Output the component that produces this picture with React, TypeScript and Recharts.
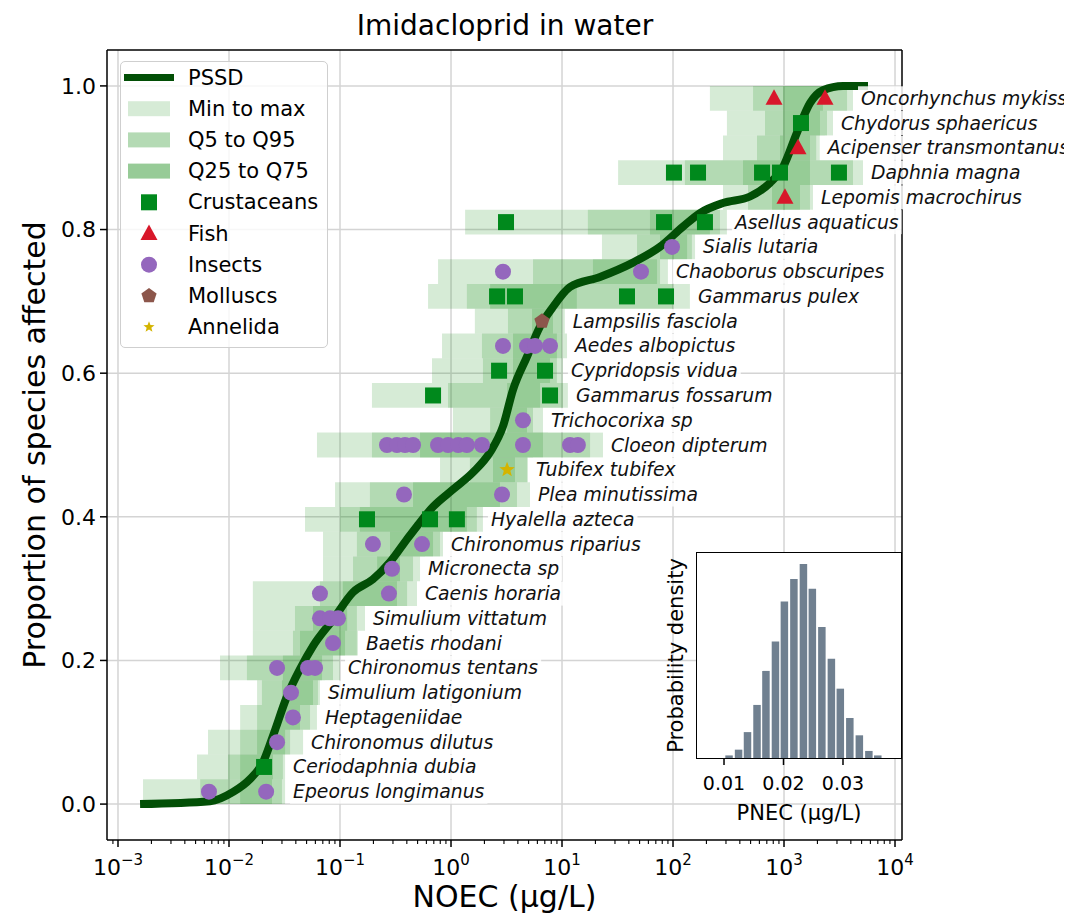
import React from 'react';
import {
  ComposedChart,
  BarChart,
  Bar,
  Line,
  Scatter,
  XAxis,
  YAxis,
  CartesianGrid,
  ReferenceArea,
  ReferenceLine,
  Legend,
} from 'recharts';

const FONT = '"DejaVu Sans", "Liberation Sans", sans-serif';

// species, bottom to top
const speciesNames = [
  'Epeorus longimanus', 'Ceriodaphnia dubia', 'Chironomus dilutus', 'Heptageniidae',
  'Simulium latigonium', 'Chironomus tentans', 'Baetis rhodani', 'Simulium vittatum',
  'Caenis horaria', 'Micronecta sp', 'Chironomus riparius', 'Hyalella azteca',
  'Plea minutissima', 'Tubifex tubifex', 'Cloeon dipterum', 'Trichocorixa sp',
  'Gammarus fossarum', 'Cypridopsis vidua', 'Aedes albopictus', 'Lampsilis fasciola',
  'Gammarus pulex', 'Chaoborus obscuripes', 'Sialis lutaria', 'Asellus aquaticus',
  'Lepomis macrochirus', 'Daphnia magna', 'Acipenser transmontanus', 'Chydorus sphaericus',
  'Oncorhynchus mykiss',
];

const speciesGroups = [
  'Insects', 'Crustaceans', 'Insects', 'Insects', 'Insects', 'Insects', 'Insects', 'Insects',
  'Insects', 'Insects', 'Insects', 'Crustaceans', 'Insects', 'Annelida', 'Insects', 'Insects',
  'Crustaceans', 'Crustaceans', 'Insects', 'Molluscs', 'Crustaceans', 'Insects', 'Insects',
  'Crustaceans', 'Fish', 'Crustaceans', 'Fish', 'Crustaceans', 'Fish',
];

// NOEC ranges (µg/L)
const minNoec = [0.00168, 0.00515, 0.00647, 0.0126, 0.0179, 0.0083, 0.0164, 0.0164, 0.0164, 0.0703, 0.0703, 0.0484, 0.0902, 0.796, 0.062, 1.04, 0.194, 0.674, 0.83, 1.64, 0.621, 0.764, 22.9, 1.34, 282, 32, 282, 306, 215];
const maxNoec = [0.032, 0.032, 0.0465, 0.062, 0.066, 0.1, 0.145, 0.168, 0.494, 0.526, 0.847, 1.94, 5.15, 4.94, 23.4, 6.74, 11.3, 10.2, 11.1, 10.6, 142, 90, 158, 306, 1824, 5150, 2100, 2763, 4185];
const q5Noec = [0.0055, 0.0098, 0.0126, 0.0179, 0.0198, 0.0145, 0.0377, 0.0393, 0.066, 0.131, 0.142, 0.1, 0.186, 1.48, 0.194, 2.25, 0.94, 1.94, 1.9, 3.26, 1.39, 5.48, 47.4, 17.1, 474, 128, 571, 674, 526];
const q95Noec = [0.03, 0.0306, 0.0355, 0.0537, 0.0633, 0.0865, 0.142, 0.142, 0.402, 0.455, 0.796, 1.71, 3.93, 4.84, 17.9, 5.48, 10.2, 9.0, 10, 10, 100, 76.4, 148, 265, 1714, 4185, 1950, 2440, 3698];
const q25Noec = [0.0126, 0.0126, 0.0179, 0.0288, 0.03, 0.0306, 0.0436, 0.0571, 0.106, 0.216, 0.282, 0.151, 0.455, 2.39, 0.526, 3.2, 3.2, 3.62, 3.62, 5.37, 2.25, 19.0, 76.4, 62, 780, 427, 920, 979, 979];
const q75Noec = [0.0244, 0.0249, 0.032, 0.0436, 0.0571, 0.0689, 0.111, 0.116, 0.326, 0.347, 0.689, 1.39, 2.76, 3.77, 6.74, 4.84, 6.34, 7.8, 9.0, 8.3, 13.6, 71.8, 134, 215, 1393, 1714, 1714, 2110, 2244];

// measured NOECs per species
const noecPoints = [
  [0.0066, 0.0216],
  [0.0207],
  [0.0271],
  [0.0377],
  [0.0362],
  [0.0271, 0.0515, 0.0596],
  [0.0865],
  [0.066, 0.0813, 0.096],
  [0.066, 0.276],
  [0.294],
  [0.198, 0.548],
  [0.175, 0.647, 1.13],
  [0.377, 2.88],
  [3.2],
  [0.265, 0.326, 0.385, 0.455, 0.764, 0.94, 1.16, 1.39, 1.9, 4.45, 11.8, 13.9],
  [4.45],
  [0.689, 7.8],
  [2.71, 7.03],
  [2.94, 4.84, 5.71, 7.8],
  [6.6],
  [2.6, 3.77, 38.5, 86.5],
  [2.94, 51.5],
  [98],
  [3.13, 83, 194],
  [1020],
  [102, 168, 634, 920, 3126],
  [1337],
  [1422],
  [813, 2340],
];

const pssdX = [0.00158, 0.00675, 0.0109, 0.0155, 0.0202, 0.0249, 0.0333, 0.0436, 0.0571, 0.0865, 0.131, 0.198, 0.282, 0.402, 0.494, 0.689, 1.04, 1.58, 2.25, 2.94, 3.62, 4.84, 6.34, 8.1, 11.8, 22, 43.6, 76.4, 123, 175, 282, 494, 748, 979, 1309, 1714, 2244, 3404, 5710];
const pssdY = [0, 0.004, 0.017, 0.035, 0.058, 0.095, 0.15, 0.188, 0.22, 0.257, 0.295, 0.313, 0.337, 0.369, 0.387, 0.414, 0.438, 0.462, 0.49, 0.526, 0.577, 0.623, 0.665, 0.69, 0.72, 0.734, 0.754, 0.776, 0.804, 0.823, 0.837, 0.846, 0.865, 0.887, 0.935, 0.976, 0.994, 1.0, 1.0];

const xMajorTicks = [0.001, 0.01, 0.1, 1, 10, 100, 1000, 10000];
const yTicks = [0, 0.2, 0.4, 0.6, 0.8, 1.0];

const pnecBins = [0.0108, 0.0124, 0.0139, 0.0155, 0.017, 0.0186, 0.0201, 0.0217, 0.0233, 0.0248, 0.0264, 0.028, 0.0295, 0.0311, 0.0327, 0.0343, 0.0358];
const pnecDensity = [1.2, 3.9, 12.1, 24.8, 40.7, 54.4, 73.1, 83.6, 90.7, 79.1, 61.2, 46.4, 32.4, 18.7, 10.6, 3.3, 1.2];
const pnecTicks = [0.01, 0.02, 0.03];

const legendLabels = ['PSSD', 'Min to max', 'Q5 to Q95', 'Q25 to Q75', 'Crustaceans', 'Fish', 'Insects', 'Molluscs', 'Annelida'];

const X_DOMAIN = [0.000796, 11560];
const Y_DOMAIN = [-0.05, 1.05];
const PSSD_COLOR = '#024f06';
const BAND_GREEN = '#008000';
const BAND_ALPHA = 0.16;
const LABEL_GAP = 1.18; // label starts just right of the min-max band
const LABEL_FONT = 18.8;

const groupStyle: Record<string, { color: string; kind: string }> = {
  Crustaceans: { color: '#00891c', kind: 'square' },
  Fish: { color: '#d8172a', kind: 'triangle' },
  Insects: { color: '#9467bd', kind: 'circle' },
  Molluscs: { color: '#8c564b', kind: 'pentagon' },
  Annelida: { color: '#d4b400', kind: 'star' },
};

const polyPoints = (cx: number, cy: number, n: number, rOut: number, rIn?: number) => {
  const pts: string[] = [];
  const steps = rIn ? n * 2 : n;
  for (let k = 0; k < steps; k++) {
    const r = rIn && k % 2 === 1 ? rIn : rOut;
    const a = -Math.PI / 2 + (k * 2 * Math.PI) / steps;
    pts.push(`${cx + r * Math.cos(a)},${cy + r * Math.sin(a)}`);
  }
  return pts.join(' ');
};

const Marker = ({ kind, cx, cy, color, scale = 1 }: any) => {
  if (cx == null || cy == null) return null;
  switch (kind) {
    case 'square':
      return <rect x={cx - 8 * scale} y={cy - 8 * scale} width={16 * scale} height={16 * scale} fill={color} />;
    case 'triangle':
      return <polygon points={`${cx},${cy - 9 * scale} ${cx + 8.5 * scale},${cy + 6.5 * scale} ${cx - 8.5 * scale},${cy + 6.5 * scale}`} fill={color} />;
    case 'pentagon':
      return <polygon points={polyPoints(cx, cy, 5, 8 * scale)} fill={color} />;
    case 'star':
      return <polygon points={polyPoints(cx, cy, 5, 9 * scale, 3.8 * scale)} fill={color} />;
    default:
      return <circle cx={cx} cy={cy} r={8 * scale} fill={color} />;
  }
};

let measureCtx: CanvasRenderingContext2D | null = null;
const textWidth = (t: string, font: string) => {
  if (!measureCtx) measureCtx = document.createElement('canvas').getContext('2d');
  if (!measureCtx) return t.length * 10;
  measureCtx.font = font;
  return measureCtx.measureText(t).width;
};

const SpeciesLabel = (p: any) => {
  if (p.cx == null) return null;
  const name = p.payload.name;
  const w = textWidth(name, `italic ${LABEL_FONT}px ${FONT}`);
  return (
    <g>
      <rect x={p.cx - 3} y={p.cy - 12} width={w + 6} height={24} fill="#fff" fillOpacity={0.85} />
      <text x={p.cx} y={p.cy} dominantBaseline="central" fontStyle="italic" fontSize={LABEL_FONT} fill="#111" fontFamily={FONT}>
        {name}
      </text>
    </g>
  );
};

const LogTick = (p: any) => {
  const v = p.payload.value;
  const lg = Math.log10(v);
  const e = Math.round(lg);
  const major = Math.abs(lg - e) < 1e-6;
  return (
    <g>
      <line x1={p.x} x2={p.x} y1={p.y} y2={p.y + (major ? 7 : 4)} stroke="#000" strokeWidth={major ? 1.5 : 1.1} />
      {major && (
        <text x={p.x} y={p.y + 35} textAnchor="middle" fontSize={22} fill="#000" fontFamily={FONT}>
          <tspan>10</tspan>
          <tspan dy={-10} fontSize={15}>{e < 0 ? '\u2212' + -e : String(e)}</tspan>
        </text>
      )}
    </g>
  );
};

const layerColor = (n: number) => `rgba(0,128,0,${1 - Math.pow(1 - BAND_ALPHA, n)})`;

const LegendBox = () => {
  const rowY = (i: number) => 17 + i * 31.2;
  return (
    <div
      style={{
        width: 208,
        height: 287,
        boxSizing: 'border-box',
        border: '1.5px solid #cfcfcf',
        borderRadius: 5,
        background: 'rgba(255,255,255,0.8)',
      }}
    >
      <svg width={205} height={284} style={{ display: 'block' }}>
        {legendLabels.map((label, i) => {
          const y = rowY(i) - 1.5;
          let icon: React.ReactNode = null;
          if (i === 0) icon = <line x1={3} x2={53} y1={y} y2={y} stroke={PSSD_COLOR} strokeWidth={7} />;
          else if (i <= 3) icon = <rect x={7} y={y - 7.5} width={42} height={15} fill={layerColor(i)} />;
          else {
            const st = groupStyle[label];
            icon = <Marker kind={st.kind} cx={28} cy={y} color={st.color} scale={st.kind === 'star' ? 0.65 : 1} />;
          }
          return (
            <g key={label}>
              {icon}
              <text x={67} y={y} dominantBaseline="central" fontSize={21} fill="#000" fontFamily={FONT}>
                {label}
              </text>
            </g>
          );
        })}
      </svg>
    </div>
  );
};

export default function App() {
  const n = speciesNames.length;
  const half = 0.5 / n;
  const rows = speciesNames.map((name, i) => ({
    name,
    group: speciesGroups[i],
    y: (i + 0.5) / n,
    min: minNoec[i],
    max: maxNoec[i],
    q5: q5Noec[i],
    q95: q95Noec[i],
    q25: q25Noec[i],
    q75: q75Noec[i],
    points: noecPoints[i],
  }));

  const xTicks: number[] = [0.0009];
  xMajorTicks.forEach((m, idx) => {
    xTicks.push(m);
    if (idx < xMajorTicks.length - 1) for (let k = 2; k <= 9; k++) xTicks.push(+(k * m).toPrecision(3));
  });

  const pssd = pssdX.map((x, i) => ({ x, y: pssdY[i] }));
  const labelData = rows.map((r) => ({ x: r.max * LABEL_GAP, y: r.y, name: r.name }));
  const groupNames = ['Crustaceans', 'Fish', 'Insects', 'Molluscs', 'Annelida'];
  const hist = pnecBins.map((x, i) => ({ x, d: pnecDensity[i] }));

  return (
    <div style={{ position: 'relative', width: 1064, height: 908, fontFamily: FONT, color: '#000' }}>
      <style>{'.recharts-surface { overflow: visible; } html, body { overflow: hidden; }'}</style>
      <ComposedChart width={1064} height={908} margin={{ top: 42, right: 170, bottom: 0, left: 0 }}>
        <CartesianGrid stroke="#d4d4d4" strokeWidth={1.5} verticalValues={xMajorTicks} horizontalValues={yTicks} />
        <XAxis
          dataKey="x"
          type="number"
          scale="log"
          domain={X_DOMAIN}
          ticks={xTicks}
          interval={0}
          tick={<LogTick />}
          tickLine={false}
          tickSize={0}
          tickMargin={0}
          height={76}
          axisLine={{ stroke: '#000', strokeWidth: 1.5 }}
          label={(props: any) => {
            const vb = props.viewBox;
            return (
              <text x={vb.x + vb.width / 2} y={vb.y + 67} textAnchor="middle" fontSize={30} fill="#000" fontFamily={FONT}>
                NOEC (µg/L)
              </text>
            );
          }}
        />
        <YAxis
          dataKey="y"
          type="number"
          domain={Y_DOMAIN}
          ticks={yTicks}
          interval={0}
          width={99}
          tickFormatter={(v: number) => v.toFixed(1)}
          tick={{ fontSize: 22, fill: '#000' }}
          tickLine={{ stroke: '#000', strokeWidth: 1.5 }}
          tickSize={7}
          tickMargin={4}
          axisLine={{ stroke: '#000', strokeWidth: 1.5 }}
          label={(props: any) => {
            const vb = props.viewBox;
            const cy = vb.y + vb.height / 2;
            return (
              <text
                x={26}
                y={cy}
                transform={`rotate(-90 26 ${cy})`}
                textAnchor="middle"
                dominantBaseline="central"
                fontSize={30}
                fill="#000"
                fontFamily={FONT}
              >
                Proportion of species affected
              </text>
            );
          }}
        />
        {rows.map((r) => (
          <ReferenceArea key={'a' + r.name} x1={r.min} x2={r.max} y1={r.y - half} y2={r.y + half} fill={BAND_GREEN} fillOpacity={BAND_ALPHA} stroke="none" />
        ))}
        {rows.map((r) => (
          <ReferenceArea key={'b' + r.name} x1={r.q5} x2={r.q95} y1={r.y - half} y2={r.y + half} fill={BAND_GREEN} fillOpacity={BAND_ALPHA} stroke="none" />
        ))}
        {rows.map((r) => (
          <ReferenceArea key={'c' + r.name} x1={r.q25} x2={r.q75} y1={r.y - half} y2={r.y + half} fill={BAND_GREEN} fillOpacity={BAND_ALPHA} stroke="none" />
        ))}
        <Line
          data={pssd}
          dataKey="y"
          type="monotone"
          stroke={PSSD_COLOR}
          strokeWidth={8}
          dot={false}
          activeDot={false}
          isAnimationActive={false}
        />
        {groupNames.map((g) => {
          const st = groupStyle[g];
          const data = rows.flatMap((r) => (r.group === g ? r.points.map((x) => ({ x, y: r.y })) : []));
          return (
            <Scatter
              key={g}
              name={g}
              data={data}
              isAnimationActive={false}
              shape={(p: any) => <Marker kind={st.kind} cx={p.cx} cy={p.cy} color={st.color} scale={st.kind === 'star' ? 0.9 : 1} />}
            />
          );
        })}
        <Scatter data={labelData} isAnimationActive={false} shape={SpeciesLabel} />
        <ReferenceLine x={X_DOMAIN[1]} stroke="#000" strokeWidth={1.5} ifOverflow="visible" />
        <ReferenceLine y={Y_DOMAIN[1]} stroke="#000" strokeWidth={1.5} ifOverflow="visible" />
        <Legend
          layout="vertical"
          align="center"
          verticalAlign="middle"
          content={() => <LegendBox />}
          wrapperStyle={{ left: 112, top: 53, width: 208, height: 287 }}
        />
      </ComposedChart>

      <svg width={1064} height={44} style={{ position: 'absolute', left: 0, top: 0 }}>
        <text x={497} y={27} textAnchor="middle" fontSize={28} fill="#000" fontFamily={FONT}>
          Imidacloprid in water
        </text>
      </svg>

      <div
        style={{
          position: 'absolute',
          left: 688,
          top: 544,
          width: 206,
          height: 207,
          boxSizing: 'border-box',
          background: '#fff',
          border: '1.5px solid #000',
        }}
      />
      <div style={{ position: 'absolute', left: 620, top: 530 }}>
        <BarChart width={300} height={300} data={hist} margin={{ top: 15, right: 27, bottom: 0, left: 0 }}>
          <XAxis
            dataKey="x"
            type="number"
            domain={[0.00546, 0.03975]}
            allowDataOverflow
            ticks={pnecTicks}
            interval={0}
            tickFormatter={(v: number) => v.toFixed(2)}
            tick={{ fontSize: 19, fill: '#000' }}
            tickLine={{ stroke: '#000', strokeWidth: 1.5 }}
            tickSize={7}
            tickMargin={12}
            axisLine={false}
            height={80}
            label={(props: any) => {
              const vb = props.viewBox;
              return (
                <text x={vb.x + vb.width / 2} y={vb.y + 62} textAnchor="middle" fontSize={21} fill="#000" fontFamily={FONT}>
                  PNEC (µg/L)
                </text>
              );
            }}
          />
          <YAxis
            type="number"
            domain={[0, 95.8]}
            allowDataOverflow
            tick={false}
            tickLine={false}
            axisLine={false}
            width={69}
            label={(props: any) => {
              const vb = props.viewBox;
              const cy = vb.y + vb.height / 2;
              return (
                <text
                  x={48}
                  y={cy}
                  transform={`rotate(-90 48 ${cy})`}
                  textAnchor="middle"
                  dominantBaseline="central"
                  fontSize={21}
                  fill="#000"
                  fontFamily={FONT}
                >
                  Probability density
                </text>
              );
            }}
          />
          <Bar dataKey="d" fill="#708090" barSize={7.5} isAnimationActive={false} />
        </BarChart>
      </div>
    </div>
  );
}
